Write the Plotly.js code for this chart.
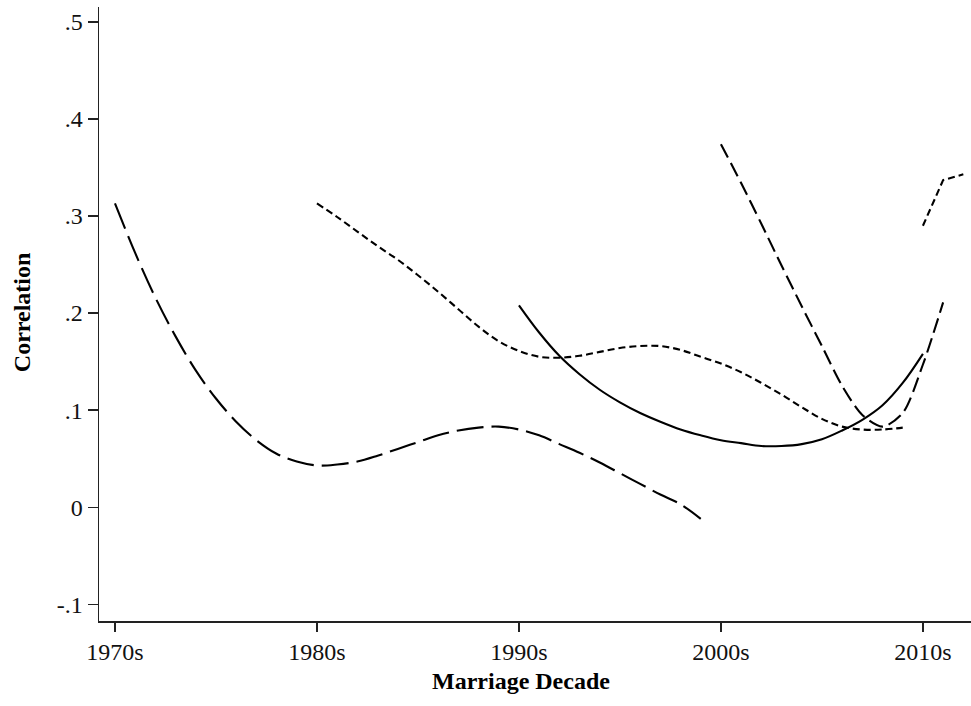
<!DOCTYPE html>
<html>
<head>
<meta charset="utf-8">
<script src="https://cdn.plot.ly/plotly-3.0.1.min.js"></script>
<style>html,body{margin:0;padding:0;background:#fff;}#chart{width:971px;height:706px;}</style>
</head>
<body>
<div id="chart"></div>
<script>
// Tick labels
const xTickVals = [1970, 1980, 1990, 2000, 2010];
const xTickText = ["1970s", "1980s", "1990s", "2000s", "2010s"];
const yTickVals = [-0.1, 0, 0.1, 0.2, 0.3, 0.4, 0.5];
const yTickText = ["-.1", "0", ".1", ".2", ".3", ".4", ".5"];

// Series 1: long dash, 1970-1999
const years70 = [1970,1971,1972,1973,1974,1975,1976,1977,1978,1979,1980,1981,1982,1983,1984,1985,1986,1987,1988,1989,1990,1991,1992,1993,1994,1995,1996,1997,1998,1999];
const corr70 = [0.313,0.262,0.216,0.176,0.141,0.112,0.088,0.069,0.055,0.047,0.043,0.044,0.047,0.053,0.060,0.067,0.074,0.079,0.082,0.083,0.080,0.074,0.065,0.056,0.046,0.035,0.024,0.013,0.003,-0.012];

// Series 2: short dash, 1980-2009
const years80 = [1980,1981,1982,1983,1984,1985,1986,1987,1988,1989,1990,1991,1992,1993,1994,1995,1996,1997,1998,1999,2000,2001,2002,2003,2004,2005,2006,2007,2008,2009];
const corr80 = [0.313,0.299,0.284,0.269,0.255,0.239,0.222,0.204,0.186,0.171,0.161,0.155,0.154,0.156,0.160,0.164,0.166,0.166,0.162,0.155,0.148,0.139,0.128,0.116,0.103,0.091,0.083,0.080,0.080,0.082];

// Series 3: solid, 1990-2010
const years90 = [1990,1991,1992,1993,1994,1995,1996,1997,1998,1999,2000,2001,2002,2003,2004,2005,2006,2007,2008,2009,2010];
const corr90 = [0.208,0.180,0.156,0.137,0.121,0.108,0.097,0.088,0.080,0.074,0.069,0.066,0.063,0.063,0.065,0.070,0.079,0.090,0.105,0.128,0.158];

// Series 4: medium dash, 2000-2011
const years00 = [2000,2001,2002,2003,2004,2005,2006,2007,2008,2009,2010,2011];
const corr00 = [0.374,0.334,0.292,0.249,0.207,0.166,0.125,0.095,0.083,0.097,0.147,0.211];

// Series 5: short dash, 2010-2012
const years10 = [2010,2011,2012];
const corr10 = [0.290,0.337,0.343];

const FONT = "Liberation Serif, 'Times New Roman', serif";
const LW = 2.1;

const traces = [
  {x: years70, y: corr70, mode: "lines", line: {color: "#000", width: LW, dash: "27px,8px", shape: "spline", smoothing: 1}},
  {x: years80, y: corr80, mode: "lines", line: {color: "#000", width: LW, dash: "7px,4px", shape: "spline", smoothing: 1}},
  {x: years90, y: corr90, mode: "lines", line: {color: "#000", width: LW, shape: "spline", smoothing: 1}},
  {x: years00, y: corr00, mode: "lines", line: {color: "#000", width: LW, dash: "15px,6px", shape: "spline", smoothing: 0.8}},
  {x: years10, y: corr10, mode: "lines", line: {color: "#000", width: LW, dash: "7px,4px"}}
];

const layout = {
  width: 971, height: 706,
  margin: {l: 99, r: 0, t: 7, b: 85},
  paper_bgcolor: "#fff", plot_bgcolor: "#fff",
  showlegend: false,
  font: {family: FONT, size: 24, color: "#000"},
  xaxis: {
    range: [1969.21, 2012.38],
    tickvals: xTickVals, ticktext: xTickText,
    showgrid: false, zeroline: false,
    showline: true, linecolor: "#222", linewidth: 1.5,
    ticks: "outside", ticklen: 9, tickwidth: 1.3, tickcolor: "#222",
    tickfont: {family: FONT, size: 24, color: "#111"}
  },
  yaxis: {
    range: [-0.1173, 0.5154],
    tickvals: yTickVals, ticktext: yTickText,
    showgrid: false, zeroline: false,
    showline: true, linecolor: "#222", linewidth: 1.5,
    ticks: "outside", ticklen: 10, tickwidth: 1.3, tickcolor: "#222",
    tickfont: {family: FONT, size: 24, color: "#111"}
  },
  annotations: [
    {text: "<b>Marriage Decade</b>", xref: "paper", yref: "paper", x: 0.4839, y: -0.0977,
     xanchor: "center", yanchor: "middle", showarrow: false, font: {family: FONT, size: 24, color: "#000"}},
    {text: "<b>Correlation</b>", xref: "paper", yref: "paper", x: -0.0883, y: 0.503,
     xanchor: "center", yanchor: "middle", textangle: -90, showarrow: false, font: {family: FONT, size: 24, color: "#000"}}
  ]
};

Plotly.newPlot("chart", traces, layout, {displayModeBar: false, staticPlot: true});
</script>
</body>
</html>
